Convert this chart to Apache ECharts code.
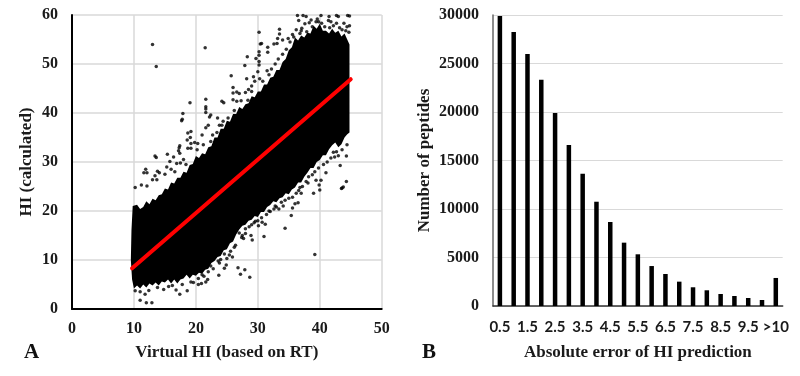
<!DOCTYPE html>
<html lang="en">
<head>
    <meta charset="UTF-8">
    <title>HI prediction</title>
    <script src="https://cdn.jsdelivr.net/npm/echarts@6/dist/echarts.min.js"></script>
    <style>
        html, body { margin: 0; padding: 0; background: #fff; }
        #main { width: 800px; height: 376px; }
    </style>
</head>
<body>
<div id="main"></div>
<script type="text/javascript">
    // panel A: the solid black part of the cloud is too dense to read dot by dot,
    // so it is kept as its outline
    const cloudOutline = [
        [9.7, 6], [9.5, 10], [9.6, 16], [9.8, 21], [10.5, 21.3], [11, 20.4], [11.5, 20.8], [12, 22], [12.5, 21.4], [13, 22.5],
        [13.5, 22.2], [14, 23.2], [14.5, 23.4], [15, 24.6], [15.5, 24.4], [16, 25.8], [16.5, 25.6], [17, 26.8], [17.5, 26.8], [18, 28],
        [18.5, 27.8], [19, 29.4], [19.5, 29.6], [20, 31.2], [20.5, 30.8], [21, 31.8], [21.5, 31.6], [22, 33], [22.5, 33.2], [23, 35],
        [23.5, 35], [24, 36.8], [24.5, 36.8], [25, 38.4], [25.5, 38.2], [26, 39.8], [26.5, 39.8], [27, 41.2], [27.5, 40.8], [28, 41.8],
        [28.5, 42], [29, 43.4], [29.5, 43.2], [30, 44.4], [30.5, 44.4], [31, 45.8], [31.5, 45.8], [32, 47.2], [32.5, 47.4], [33, 48.8],
        [33.5, 48.8], [34, 50.4], [34.5, 51], [35, 52.8], [35.5, 53.4], [36, 55.4], [36.5, 54.8], [37, 55.8], [37.5, 55.4], [38, 56.4],
        [38.5, 56.2], [39, 57.8], [39.5, 57.2], [40, 58.2], [40.5, 56.8], [41, 56.8], [41.5, 56.2], [42, 57.2], [42.5, 56.4], [43, 56.8],
        [43.5, 55.6], [44, 56.2], [44.8, 54],
        [44.8, 36], [44.4, 35.6], [44, 35], [43.5, 33.6], [43, 33], [42.5, 34], [42, 33.4], [41.5, 32.6], [41, 31.4], [40.5, 31.4],
        [40, 30.4], [39.5, 30], [39, 28.8], [38.5, 28.8], [38, 27.8], [37.5, 27], [37, 25.8], [36.5, 25.8], [36, 24.8], [35.5, 24.4],
        [35, 23.4], [34.5, 23.6], [34, 22.8], [33.5, 22.6], [33, 21.8], [32.5, 22], [32, 21.2], [31.5, 20.8], [31, 19.8], [30.5, 19.8],
        [30, 18.8], [29.5, 19], [29, 18.2], [28.5, 18], [28, 17.2], [27.5, 17], [27, 16.2], [26.5, 15.2], [26, 13.8], [25.5, 13.4],
        [25, 12.2], [24.5, 12], [24, 10.8], [23.5, 10.6], [23, 9.8], [22.5, 9.4], [22, 8.2], [21.5, 8], [21, 7.2], [20.5, 7.4],
        [20, 6.8], [19.5, 7], [19, 6.2], [18.5, 7], [18, 6.2], [17.5, 6], [17, 5.2], [16.5, 6], [16, 5.2], [15.5, 6],
        [15, 5.4], [14.5, 5.6], [14, 4.8], [13.5, 5.4], [13, 4.8], [12.5, 5.2], [12, 4.4], [11.5, 5], [11, 4.2], [10.5, 4.8], [10, 4.2]
    ];
    // separate dots outside the solid part
    const upperDots = [
        [13, 54], [13.6, 49.5], [21.5, 53.3], [25.7, 47.6], [26, 45.2], [26, 44.1], [26.6, 44.3], [26, 42.7],
        [26.6, 42.4], [19.05, 42.1], [21.6, 42.8], [21.6, 41.3], [21.6, 40.8], [21.6, 40.1], [24.2, 42.4], [24.5, 42.1],
        [17.9, 39.9], [17.8, 38.7], [17.7, 38.4], [22.4, 39.6], [22.2, 39.2], [23.5, 39], [19.2, 36.2], [18.7, 35.9],
        [19.1, 35], [18.6, 34.5], [19.2, 33.8], [17.4, 33.3], [17.3, 32.9], [17.2, 32.3], [17.4, 31.8], [18.7, 32.8],
        [19.2, 32.8], [13.4, 31.2], [13.6, 30.9], [15.4, 31.6], [16.4, 31], [15.8, 30.1], [16.9, 29.7], [11.9, 28.5],
        [11.6, 27.8], [12.1, 27.8], [10.2, 24.8], [11.2, 25.3], [12.1, 25.1], [13.8, 28.1], [14.1, 27.8], [13.4, 27.2],
        [13, 26.4], [13.7, 26.4], [15.3, 29], [16, 28.5], [15, 27.5], [16.6, 28], [17.5, 29.8], [18, 30.5],
        [18.4, 29.5], [19.8, 34], [20.3, 33.8], [21, 35.5], [21.6, 37], [22, 37.5], [22.7, 35.5], [23.8, 37.5],
        [24.4, 38.3], [20.2, 32.5], [21.2, 33.5], [22.4, 34.2], [23.4, 36], [24.2, 37.5], [25.2, 39], [26.2, 40.5],
        [30.2, 56.5], [33.5, 57.1], [33.5, 56.1], [33.2, 55.2], [34, 54.9], [34.9, 55.2], [32.6, 54.1], [33.1, 54.2],
        [30.4, 54.1], [30.6, 54.2], [31.6, 53.4], [31.6, 52.4], [28.3, 51.5], [29.7, 51.1], [30.2, 52.5], [30.2, 51.8],
        [30.2, 50.5], [30.2, 49.8], [27.9, 49.7], [31.5, 48.6], [30, 48.4], [29.3, 47.4], [29.5, 46.5], [30.3, 47],
        [28.2, 47], [28.5, 44.8], [29, 44.4], [28, 44.2], [27, 44], [32.2, 49], [32.8, 50], [33.3, 51],
        [34, 52], [34.6, 53], [35.2, 54.5], [35.6, 56], [31.8, 47.8], [30.8, 46.5], [29, 45.5], [27.3, 42.5],
        [28.4, 42.6], [36.4, 59.9], [37.3, 59.9], [37.8, 59.7], [40.2, 59.9], [41.5, 59.7], [42.7, 59.9], [43, 59.7],
        [44.5, 59.9], [44.8, 59.8], [36.6, 58.9], [37.6, 58.2], [38.3, 58.4], [39.4, 58.6], [40.3, 58.3], [41.4, 58.9],
        [42.7, 58.3], [43.9, 58.3], [44.4, 57.6], [44.8, 57.8], [37.1, 57.3], [37.9, 56.6], [38.6, 59], [39.6, 59.2],
        [41.8, 58.6], [43.2, 57.4], [44.7, 56.5], [36.2, 57], [35.8, 55.5], [37, 56.8], [40.8, 57.6], [41.6, 57.4],
        [42.2, 57.8], [43.6, 57], [44.2, 56.8], [38.8, 57.6], [39.8, 58.6], [36.8, 56.2]
    ];
    const lowerDots = [
        [39.2, 11.1], [34.4, 16.5], [31, 14.8], [35.4, 19.1], [28.7, 6.5], [27.9, 8], [26.8, 8.4], [27.2, 7.1],
        [23.7, 6.9], [29.1, 14.1], [27.7, 14.4], [28.9, 15], [28, 15.4], [27.5, 15], [31.2, 17.3], [30.7, 17.7],
        [30.1, 17], [29.6, 17.9], [33.4, 20.4], [32.6, 20.4], [32, 19.9], [31.4, 19.3], [36.5, 21.7], [36, 21.5],
        [35.6, 20.6], [34.1, 21], [37, 23.6], [36.8, 24.8], [39, 23.6], [40, 24.3], [43.5, 24.6], [43.8, 24.9],
        [25.9, 10.6], [25, 10.3], [24, 10.1], [24.9, 9], [23.8, 9.4], [24.6, 8.3], [22.4, 8.8], [21.3, 6.7],
        [21.6, 5.5], [20.9, 5.2], [21.9, 6], [20.4, 6.2], [19.6, 5.4], [11, 1.8], [12, 1.3], [12.9, 1.3],
        [11.8, 3], [10.2, 3.7], [11, 3.5], [12.4, 3.8], [17.4, 3], [16.8, 3.9], [18.6, 3.7], [14.8, 4],
        [13.8, 4.4], [15.6, 4.6], [19.2, 5.5], [20.4, 5], [16.2, 4.8], [17.8, 5], [44.3, 26], [43.6, 24.7],
        [42.7, 32.1], [43, 31.3], [43.3, 29.3], [44.3, 31.2], [41, 27.8], [40.2, 26.3], [39.4, 26.3], [39.9, 25.3],
        [38.1, 25.7], [41.8, 30.8], [42.4, 31], [43.6, 32.5], [44.4, 33.5], [40.6, 29.5], [39.2, 28], [38.2, 27],
        [37.2, 25], [36.2, 23.6], [35, 22.6], [33.8, 21.8], [32.8, 21], [30, 18], [29, 17.2], [28, 16.4],
        [27, 15.5], [26.4, 13], [25.6, 11.8], [24.6, 11.2], [23.6, 9.8], [22.8, 8.2], [22, 7.6], [21, 7],
        [26.2, 12.6], [25.4, 11], [27.4, 14.6], [28.6, 16.8], [29.4, 17.6], [30.6, 18.6], [31.8, 20], [33, 20.8],
        [34.4, 22.2], [35.6, 22.8], [36.6, 24.2], [37.8, 26], [38.8, 27.4], [39.8, 28.8], [41.2, 30], [42.2, 32]
    ];
    const fitLine = [[9.7, 8.3], [45, 46.9]];

    // panel B
    const errorBins = [
        '0.5', '1', '1.5', '2', '2.5', '3', '3.5', '4', '4.5', '5', '5.5',
        '6', '6.5', '7', '7.5', '8', '8.5', '9', '9.5', '10', '>10'
    ];
    const peptideCounts = [
        29900, 28250, 25980, 23330, 19900, 16600, 13640, 10750, 8660, 6530, 5330,
        4120, 3300, 2510, 1930, 1620, 1240, 1030, 825, 620, 2890
    ];

    const serif = '"Liberation Serif", "Times New Roman", serif';
    const tickText = { fontFamily: serif, fontWeight: 'bold', fontSize: 16, color: '#1a1a1a' };
    const nameText = { fontFamily: serif, fontWeight: 'bold', fontSize: 17, color: '#1a1a1a' };
    const gridLine = { show: true, lineStyle: { color: '#d9d9d9', width: 1.5 } };

    function drawCloud(params, api) {
        if (params.dataIndex !== 0) return;
        return {
            type: 'polygon',
            shape: { points: cloudOutline.map(p => api.coord(p)) },
            style: { fill: '#000' }
        };
    }

    var myChart = echarts.init(document.getElementById('main'), null, { renderer: 'canvas' });
    var option = {
        animation: false,
        grid: [
            { left: 72, top: 15, width: 309.7, height: 294 },
            { left: 493, top: 15, width: 289.7, height: 291 }
        ],
        xAxis: [
            {
                type: 'value', gridIndex: 0, min: 0, max: 50, interval: 10,
                name: 'Virtual HI (based on RT)', nameLocation: 'middle', nameGap: 35, nameTextStyle: nameText,
                axisLine: { show: true, onZero: false, lineStyle: { color: '#000', width: 2 } },
                axisTick: { show: false },
                axisLabel: Object.assign({ margin: 12 }, tickText),
                splitLine: gridLine
            },
            {
                type: 'category', gridIndex: 1, data: errorBins,
                name: 'Absolute error of HI prediction', nameLocation: 'middle', nameGap: 38, nameTextStyle: nameText,
                axisLine: { show: true, lineStyle: { color: '#333', width: 1.5 } },
                axisTick: { show: false },
                axisLabel: { interval: 1, margin: 14, fontFamily: 'Lato', fontWeight: 'bold', fontSize: 15, color: '#1a1a1a' },
                splitLine: { show: false }
            }
        ],
        yAxis: [
            {
                type: 'value', gridIndex: 0, min: 0, max: 60, interval: 10,
                name: 'HI (calculated)', nameLocation: 'middle', nameGap: 37, nameTextStyle: nameText,
                axisLine: { show: true, onZero: false, lineStyle: { color: '#000', width: 2 } },
                axisTick: { show: false },
                axisLabel: Object.assign({ margin: 14 }, tickText),
                splitLine: gridLine
            },
            {
                type: 'value', gridIndex: 1, min: 0, max: 30000, interval: 5000,
                name: 'Number of peptides', nameLocation: 'middle', nameGap: 60, nameTextStyle: nameText,
                axisLine: { show: true, lineStyle: { color: '#666', width: 1.5 } },
                axisTick: { show: false },
                axisLabel: Object.assign({ margin: 14, formatter: v => String(v) }, tickText),
                splitLine: { show: true, lineStyle: { color: '#d9d9d9', width: 1 } }
            }
        ],
        graphic: [
            { type: 'text', left: 24, top: 342, style: { text: 'A', fontFamily: serif, fontWeight: 'bold', fontSize: 21, fill: '#111' } },
            { type: 'text', left: 422, top: 342, style: { text: 'B', fontFamily: serif, fontWeight: 'bold', fontSize: 21, fill: '#111' } }
        ],
        series: [
            {
                type: 'custom', xAxisIndex: 0, yAxisIndex: 0, data: cloudOutline,
                renderItem: drawCloud, encode: { x: 0, y: 1 }, silent: true, z: 2
            },
            {
                type: 'scatter', xAxisIndex: 0, yAxisIndex: 0, data: upperDots.concat(lowerDots),
                symbolSize: 3.5, clip: false, itemStyle: { color: '#000' }, z: 3
            },
            {
                type: 'line', xAxisIndex: 0, yAxisIndex: 0, data: fitLine, showSymbol: false,
                lineStyle: { color: '#ff0000', width: 4, cap: 'round' }, z: 4
            },
            {
                type: 'bar', xAxisIndex: 1, yAxisIndex: 1, data: peptideCounts,
                barWidth: 4.5, itemStyle: { color: '#000' }
            }
        ]
    };
    option && myChart.setOption(option);
</script>
</body>
</html>
